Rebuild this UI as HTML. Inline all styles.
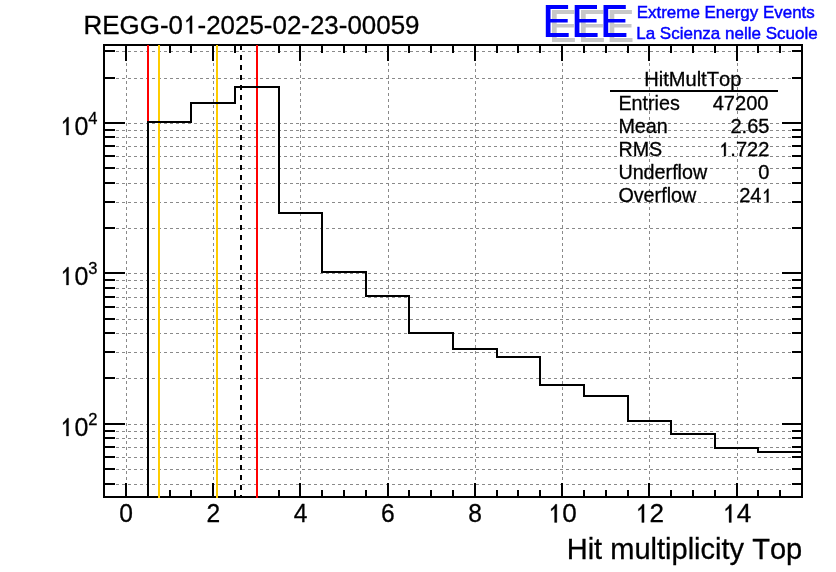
<!DOCTYPE html>
<html><head><meta charset="utf-8"><title>HitMultTop</title>
<style>html,body{margin:0;padding:0;background:#fff;}body{width:836px;height:572px;overflow:hidden;}svg{display:block;}text{font-family:"Liberation Sans",sans-serif;font-kerning:none;fill:#000;stroke:#000;stroke-width:0.3px;}svg{will-change:transform;}</style></head><body>
<svg width="836" height="572" viewBox="0 0 836 572">
<rect x="0" y="0" width="836" height="572" fill="#fff"/>
<g stroke="#8a8a8a" stroke-width="1" stroke-dasharray="3 3" shape-rendering="crispEdges" fill="none">
<line x1="126.5" y1="498" x2="126.5" y2="45"/>
<line x1="213.5" y1="498" x2="213.5" y2="45"/>
<line x1="300.5" y1="498" x2="300.5" y2="45"/>
<line x1="388.5" y1="498" x2="388.5" y2="45"/>
<line x1="475.5" y1="498" x2="475.5" y2="45"/>
<line x1="562.5" y1="498" x2="562.5" y2="45"/>
<line x1="649.5" y1="498" x2="649.5" y2="45"/>
<line x1="737.5" y1="498" x2="737.5" y2="45"/>
<line x1="104" y1="484.5" x2="802" y2="484.5"/>
<line x1="104" y1="469.5" x2="802" y2="469.5"/>
<line x1="104" y1="457.5" x2="802" y2="457.5"/>
<line x1="104" y1="447.5" x2="802" y2="447.5"/>
<line x1="104" y1="438.5" x2="802" y2="438.5"/>
<line x1="104" y1="431.5" x2="802" y2="431.5"/>
<line x1="104" y1="424.5" x2="802" y2="424.5"/>
<line x1="104" y1="378.5" x2="802" y2="378.5"/>
<line x1="104" y1="352.5" x2="802" y2="352.5"/>
<line x1="104" y1="333.5" x2="802" y2="333.5"/>
<line x1="104" y1="319.5" x2="802" y2="319.5"/>
<line x1="104" y1="307.5" x2="802" y2="307.5"/>
<line x1="104" y1="297.5" x2="802" y2="297.5"/>
<line x1="104" y1="288.5" x2="802" y2="288.5"/>
<line x1="104" y1="280.5" x2="802" y2="280.5"/>
<line x1="104" y1="273.5" x2="802" y2="273.5"/>
<line x1="104" y1="228.5" x2="802" y2="228.5"/>
<line x1="104" y1="202.5" x2="802" y2="202.5"/>
<line x1="104" y1="183.5" x2="802" y2="183.5"/>
<line x1="104" y1="168.5" x2="802" y2="168.5"/>
<line x1="104" y1="156.5" x2="802" y2="156.5"/>
<line x1="104" y1="146.5" x2="802" y2="146.5"/>
<line x1="104" y1="137.5" x2="802" y2="137.5"/>
<line x1="104" y1="130.5" x2="802" y2="130.5"/>
<line x1="104" y1="123.5" x2="802" y2="123.5"/>
<line x1="104" y1="78.5" x2="802" y2="78.5"/>
<line x1="104" y1="51.5" x2="802" y2="51.5"/>
</g>
<g stroke="#000" stroke-width="2" shape-rendering="crispEdges" fill="none">
<rect x="104" y="45" width="698" height="452"/>
<line x1="126" y1="497" x2="126" y2="483"/>
<line x1="126" y1="45" x2="126" y2="61"/>
<line x1="148" y1="497" x2="148" y2="490"/>
<line x1="148" y1="45" x2="148" y2="53"/>
<line x1="170" y1="497" x2="170" y2="490"/>
<line x1="170" y1="45" x2="170" y2="53"/>
<line x1="191" y1="497" x2="191" y2="490"/>
<line x1="191" y1="45" x2="191" y2="53"/>
<line x1="213" y1="497" x2="213" y2="483"/>
<line x1="213" y1="45" x2="213" y2="61"/>
<line x1="235" y1="497" x2="235" y2="490"/>
<line x1="235" y1="45" x2="235" y2="53"/>
<line x1="257" y1="497" x2="257" y2="490"/>
<line x1="257" y1="45" x2="257" y2="53"/>
<line x1="279" y1="497" x2="279" y2="490"/>
<line x1="279" y1="45" x2="279" y2="53"/>
<line x1="300" y1="497" x2="300" y2="483"/>
<line x1="300" y1="45" x2="300" y2="61"/>
<line x1="322" y1="497" x2="322" y2="490"/>
<line x1="322" y1="45" x2="322" y2="53"/>
<line x1="344" y1="497" x2="344" y2="490"/>
<line x1="344" y1="45" x2="344" y2="53"/>
<line x1="366" y1="497" x2="366" y2="490"/>
<line x1="366" y1="45" x2="366" y2="53"/>
<line x1="388" y1="497" x2="388" y2="483"/>
<line x1="388" y1="45" x2="388" y2="61"/>
<line x1="409" y1="497" x2="409" y2="490"/>
<line x1="409" y1="45" x2="409" y2="53"/>
<line x1="431" y1="497" x2="431" y2="490"/>
<line x1="431" y1="45" x2="431" y2="53"/>
<line x1="453" y1="497" x2="453" y2="490"/>
<line x1="453" y1="45" x2="453" y2="53"/>
<line x1="475" y1="497" x2="475" y2="483"/>
<line x1="475" y1="45" x2="475" y2="61"/>
<line x1="497" y1="497" x2="497" y2="490"/>
<line x1="497" y1="45" x2="497" y2="53"/>
<line x1="518" y1="497" x2="518" y2="490"/>
<line x1="518" y1="45" x2="518" y2="53"/>
<line x1="540" y1="497" x2="540" y2="490"/>
<line x1="540" y1="45" x2="540" y2="53"/>
<line x1="562" y1="497" x2="562" y2="483"/>
<line x1="562" y1="45" x2="562" y2="61"/>
<line x1="584" y1="497" x2="584" y2="490"/>
<line x1="584" y1="45" x2="584" y2="53"/>
<line x1="606" y1="497" x2="606" y2="490"/>
<line x1="606" y1="45" x2="606" y2="53"/>
<line x1="628" y1="497" x2="628" y2="490"/>
<line x1="628" y1="45" x2="628" y2="53"/>
<line x1="649" y1="497" x2="649" y2="483"/>
<line x1="649" y1="45" x2="649" y2="61"/>
<line x1="671" y1="497" x2="671" y2="490"/>
<line x1="671" y1="45" x2="671" y2="53"/>
<line x1="693" y1="497" x2="693" y2="490"/>
<line x1="693" y1="45" x2="693" y2="53"/>
<line x1="715" y1="497" x2="715" y2="490"/>
<line x1="715" y1="45" x2="715" y2="53"/>
<line x1="737" y1="497" x2="737" y2="483"/>
<line x1="737" y1="45" x2="737" y2="61"/>
<line x1="758" y1="497" x2="758" y2="490"/>
<line x1="758" y1="45" x2="758" y2="53"/>
<line x1="780" y1="497" x2="780" y2="490"/>
<line x1="780" y1="45" x2="780" y2="53"/>
<line x1="104" y1="484" x2="115" y2="484"/>
<line x1="802" y1="484" x2="792" y2="484"/>
<line x1="104" y1="469" x2="115" y2="469"/>
<line x1="802" y1="469" x2="792" y2="469"/>
<line x1="104" y1="457" x2="115" y2="457"/>
<line x1="802" y1="457" x2="792" y2="457"/>
<line x1="104" y1="447" x2="115" y2="447"/>
<line x1="802" y1="447" x2="792" y2="447"/>
<line x1="104" y1="438" x2="115" y2="438"/>
<line x1="802" y1="438" x2="792" y2="438"/>
<line x1="104" y1="431" x2="115" y2="431"/>
<line x1="802" y1="431" x2="792" y2="431"/>
<line x1="104" y1="424" x2="125" y2="424"/>
<line x1="802" y1="424" x2="782" y2="424"/>
<line x1="104" y1="378" x2="115" y2="378"/>
<line x1="802" y1="378" x2="792" y2="378"/>
<line x1="104" y1="352" x2="115" y2="352"/>
<line x1="802" y1="352" x2="792" y2="352"/>
<line x1="104" y1="333" x2="115" y2="333"/>
<line x1="802" y1="333" x2="792" y2="333"/>
<line x1="104" y1="319" x2="115" y2="319"/>
<line x1="802" y1="319" x2="792" y2="319"/>
<line x1="104" y1="307" x2="115" y2="307"/>
<line x1="802" y1="307" x2="792" y2="307"/>
<line x1="104" y1="297" x2="115" y2="297"/>
<line x1="802" y1="297" x2="792" y2="297"/>
<line x1="104" y1="288" x2="115" y2="288"/>
<line x1="802" y1="288" x2="792" y2="288"/>
<line x1="104" y1="280" x2="115" y2="280"/>
<line x1="802" y1="280" x2="792" y2="280"/>
<line x1="104" y1="273" x2="125" y2="273"/>
<line x1="802" y1="273" x2="782" y2="273"/>
<line x1="104" y1="228" x2="115" y2="228"/>
<line x1="802" y1="228" x2="792" y2="228"/>
<line x1="104" y1="202" x2="115" y2="202"/>
<line x1="802" y1="202" x2="792" y2="202"/>
<line x1="104" y1="183" x2="115" y2="183"/>
<line x1="802" y1="183" x2="792" y2="183"/>
<line x1="104" y1="168" x2="115" y2="168"/>
<line x1="802" y1="168" x2="792" y2="168"/>
<line x1="104" y1="156" x2="115" y2="156"/>
<line x1="802" y1="156" x2="792" y2="156"/>
<line x1="104" y1="146" x2="115" y2="146"/>
<line x1="802" y1="146" x2="792" y2="146"/>
<line x1="104" y1="137" x2="115" y2="137"/>
<line x1="802" y1="137" x2="792" y2="137"/>
<line x1="104" y1="130" x2="115" y2="130"/>
<line x1="802" y1="130" x2="792" y2="130"/>
<line x1="104" y1="123" x2="125" y2="123"/>
<line x1="802" y1="123" x2="782" y2="123"/>
<line x1="104" y1="78" x2="115" y2="78"/>
<line x1="802" y1="78" x2="792" y2="78"/>
<line x1="104" y1="51" x2="115" y2="51"/>
<line x1="802" y1="51" x2="792" y2="51"/>
</g>
<g stroke-width="2" shape-rendering="crispEdges" fill="none">
<line x1="148" y1="45" x2="148" y2="498" stroke="#ff0000"/>
<line x1="257" y1="45" x2="257" y2="498" stroke="#ff0000"/>
<line x1="159" y1="45" x2="159" y2="498" stroke="#ffcc00"/>
<line x1="217" y1="45" x2="217" y2="498" stroke="#ffcc00"/>
<line x1="241" y1="45" x2="241" y2="498" stroke="#000" stroke-dasharray="5 5"/>
</g>
<path d="M148,498 L148,122 L191,122 L191,103 L235,103 L235,87 L279,87 L279,213 L322,213 L322,272 L366,272 L366,296 L409,296 L409,333 L453,333 L453,349 L497,349 L497,357 L540,357 L540,385 L584,385 L584,396 L628,396 L628,421 L671,421 L671,434 L715,434 L715,448 L758,448 L758,452 L802,452" stroke="#000" stroke-width="2" fill="none" stroke-linejoin="miter" shape-rendering="crispEdges"/>
<text transform="translate(126.11,522.4) scale(0.932,1)" font-size="26.4" text-anchor="middle">0</text>
<text transform="translate(213.35,522.4) scale(0.932,1)" font-size="26.4" text-anchor="middle">2</text>
<text transform="translate(300.59,522.4) scale(0.932,1)" font-size="26.4" text-anchor="middle">4</text>
<text transform="translate(387.83,522.4) scale(0.932,1)" font-size="26.4" text-anchor="middle">6</text>
<text transform="translate(475.07,522.4) scale(0.932,1)" font-size="26.4" text-anchor="middle">8</text>
<path transform="translate(547.14,522.4) scale(0.01274,-0.01231)" d="M763 0L583 0L583 1147Q518 1085 440 1023Q365 961 315 930L315 1104Q415 1175 505 1276Q600 1377 647 1472L763 1472Z" fill="#000" stroke="#000" stroke-width="23.3"/>
<text transform="translate(576.82,522.4) scale(0.988,1)" font-size="26.4" text-anchor="end">0</text>
<path transform="translate(634.38,522.4) scale(0.01274,-0.01231)" d="M763 0L583 0L583 1147Q518 1085 440 1023Q365 961 315 930L315 1104Q415 1175 505 1276Q600 1377 647 1472L763 1472Z" fill="#000" stroke="#000" stroke-width="23.3"/>
<text transform="translate(664.06,522.4) scale(0.988,1)" font-size="26.4" text-anchor="end">2</text>
<path transform="translate(721.62,522.4) scale(0.01274,-0.01231)" d="M763 0L583 0L583 1147Q518 1085 440 1023Q365 961 315 930L315 1104Q415 1175 505 1276Q600 1377 647 1472L763 1472Z" fill="#000" stroke="#000" stroke-width="23.3"/>
<text transform="translate(751.3,522.4) scale(0.988,1)" font-size="26.4" text-anchor="end">4</text>
<path transform="translate(59.29,135) scale(0.01219,-0.01212)" d="M763 0L583 0L583 1147Q518 1085 440 1023Q365 961 315 930L315 1104Q415 1175 505 1276Q600 1377 647 1472L763 1472Z" fill="#000" stroke="#000" stroke-width="23.6"/>
<text transform="translate(88.4,135) scale(0.96,1)" font-size="26" text-anchor="end">0</text>
<text x="88.2" y="123.5" font-size="16.5" text-anchor="start">4</text>
<path transform="translate(59.29,285) scale(0.01219,-0.01212)" d="M763 0L583 0L583 1147Q518 1085 440 1023Q365 961 315 930L315 1104Q415 1175 505 1276Q600 1377 647 1472L763 1472Z" fill="#000" stroke="#000" stroke-width="23.6"/>
<text transform="translate(88.4,285) scale(0.96,1)" font-size="26" text-anchor="end">0</text>
<text x="88.2" y="273.5" font-size="16.5" text-anchor="start">3</text>
<path transform="translate(59.29,436) scale(0.01219,-0.01212)" d="M763 0L583 0L583 1147Q518 1085 440 1023Q365 961 315 930L315 1104Q415 1175 505 1276Q600 1377 647 1472L763 1472Z" fill="#000" stroke="#000" stroke-width="23.6"/>
<text transform="translate(88.4,436) scale(0.96,1)" font-size="26" text-anchor="end">0</text>
<text x="88.2" y="424.5" font-size="16.5" text-anchor="start">2</text>
<text transform="translate(83.6,33.5) scale(1.0057,1)" font-size="25.8" text-anchor="start">REGG-0</text>
<path transform="translate(182.43,33.5) scale(0.01267,-0.01203)" d="M763 0L583 0L583 1147Q518 1085 440 1023Q365 961 315 930L315 1104Q415 1175 505 1276Q600 1377 647 1472L763 1472Z" fill="#000" stroke="#000" stroke-width="23.8"/>
<text transform="translate(197.5,33.5) scale(1.0057,1)" font-size="25.8" text-anchor="start">-2025-02-23-00059</text>
<text transform="translate(802.2,558.8) scale(0.975,1)" font-size="29.8" text-anchor="end">Hit multiplicity Top</text>
<path fill="#c8c8c8" d="M552,10h22.3v3.9h-17.6v10.2h17.2v3.5h-17.2v10.5h18.2v3.9h-22.9z"/>
<path fill="#c8c8c8" d="M581,10h22.3v3.9h-17.6v10.2h17.2v3.5h-17.2v10.5h18.2v3.9h-22.9z"/>
<path fill="#c8c8c8" d="M609.6,10h22.3v3.9h-17.6v10.2h17.2v3.5h-17.2v10.5h18.2v3.9h-22.9z"/>
<path fill="#0000ff" d="M545.8,5h22.3v3.9h-17.6v10.2h17.2v3.5h-17.2v10.5h18.2v3.9h-22.9z"/>
<path fill="#0000ff" d="M574.7,5h22.3v3.9h-17.6v10.2h17.2v3.5h-17.2v10.5h18.2v3.9h-22.9z"/>
<path fill="#0000ff" d="M603.5,5h22.3v3.9h-17.6v10.2h17.2v3.5h-17.2v10.5h18.2v3.9h-22.9z"/>
<text transform="translate(636.7,17.7) scale(0.975,1)" font-size="17.4" text-anchor="start" style="fill:#0000ff;stroke:#0000ff;stroke-width:0.45px">Extreme Energy Events</text>
<text transform="translate(636.2,38.8) scale(0.978,1)" font-size="17.4" text-anchor="start" style="fill:#0000ff;stroke:#0000ff;stroke-width:0.45px">La Scienza nelle Scuole</text>
<text transform="translate(692.75,85.7) scale(0.986,1)" font-size="20.4" text-anchor="middle">HitMultTop</text>
<line x1="610" y1="91" x2="778" y2="91" stroke="#000" stroke-width="2" shape-rendering="crispEdges"/>
<text transform="translate(618.4,109.85) scale(0.963,1)" font-size="20.5" text-anchor="start">Entries</text>
<text transform="translate(768.5,109.85) scale(1.02,1)" font-size="19.7" text-anchor="end">47200</text>
<text transform="translate(618.4,133.0) scale(0.963,1)" font-size="20.5" text-anchor="start">Mean</text>
<text transform="translate(769.5,133.0) scale(1.02,1)" font-size="19.7" text-anchor="end">2.65</text>
<text transform="translate(618.4,156.1) scale(0.963,1)" font-size="20.5" text-anchor="start">RMS</text>
<text transform="translate(769.4,156.1) scale(1.02,1)" font-size="19.7" text-anchor="end">.722</text>
<path transform="translate(718.31,156.1) scale(0.00981,-0.00919)" d="M763 0L583 0L583 1147Q518 1085 440 1023Q365 961 315 930L315 1104Q415 1175 505 1276Q600 1377 647 1472L763 1472Z" fill="#000" stroke="#000" stroke-width="31.2"/>
<text transform="translate(618.4,179.3) scale(0.963,1)" font-size="20.5" text-anchor="start">Underflow</text>
<text transform="translate(769.5,179.3) scale(1.02,1)" font-size="19.7" text-anchor="end">0</text>
<text transform="translate(618.4,202.4) scale(0.963,1)" font-size="20.5" text-anchor="start">Overflow</text>
<text transform="translate(761.5,202.4) scale(1.02,1)" font-size="19.7" text-anchor="end">24</text>
<path transform="translate(761.01,202.4) scale(0.00981,-0.00919)" d="M763 0L583 0L583 1147Q518 1085 440 1023Q365 961 315 930L315 1104Q415 1175 505 1276Q600 1377 647 1472L763 1472Z" fill="#000" stroke="#000" stroke-width="31.2"/>
</svg></body></html>
